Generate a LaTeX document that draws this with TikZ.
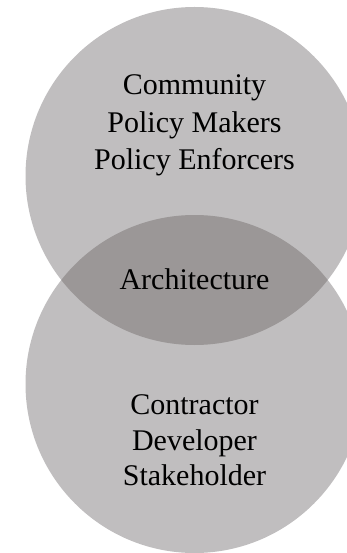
\documentclass[tikz,border=0pt]{standalone}
\usepackage{fontspec}
\setmainfont{Liberation Serif}
\definecolor{ringgray}{RGB}{192,190,191}
\definecolor{overlapgray}{RGB}{155,151,151}
\begin{document}
\begin{tikzpicture}[x=1pt,y=-1pt,
  grouptext/.style={font=\fontsize{30}{37.5}\selectfont, align=center, text=black, inner sep=0pt},
  grouptextb/.style={grouptext, font=\fontsize{30}{35.5}\selectfont}]
\useasboundingbox (0,0) rectangle (347,553);
\coordinate (upper) at (194.5,176);
\coordinate (lower) at (194.5,384);
\begin{scope}
  \clip (0,0) rectangle (347,553);
  % the two circles
  \fill[ringgray] (upper) circle[radius=169];
  \fill[ringgray] (lower) circle[radius=169];
  % their overlap, a shade darker
  \begin{scope}
    \clip (upper) circle[radius=169];
    \fill[overlapgray] (lower) circle[radius=169];
  \end{scope}
\end{scope}
\node[grouptext] (public) at (194.5,125.6) {Community\\Policy Makers\\Policy Enforcers};
\node[grouptext, anchor=base] (arch) at (194.5,289) {Architecture};
\node[grouptextb] (private) at (194.5,440.7) {Contractor\\Developer\\Stakeholder};
\end{tikzpicture}
\end{document}
